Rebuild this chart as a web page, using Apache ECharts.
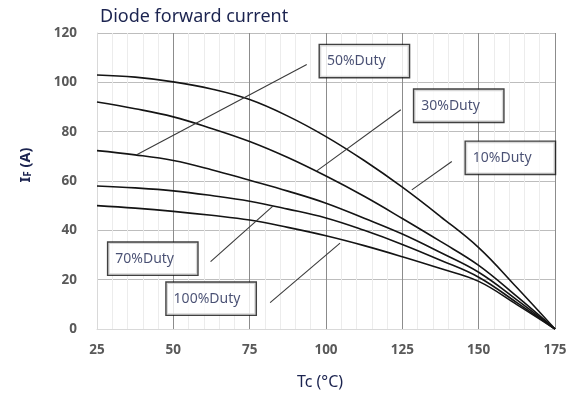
<!DOCTYPE html>
<html>
<head>
<meta charset="utf-8">
<script src="https://cdn.jsdelivr.net/npm/echarts@6/dist/echarts.min.js"></script>
<style>html,body{margin:0;padding:0;background:#fff}#c{width:577px;height:403px}</style>
</head>
<body>
<div id="c"></div>
<script>
// Case temperature (°C)
var temps = [25, 37.5, 50, 62.5, 75, 87.5, 100, 112.5, 125, 137.5, 150, 162.5, 175];
// Forward current curves (A)
var curve1 = [103, 102.1, 100.2, 97.3, 93, 86.3, 78, 68.3, 57.5, 45.6, 33, 16.8, 0];
var curve2 = [92, 89.3, 86, 81.3, 76, 69.5, 62, 53.8, 44.8, 35.5, 25.8, 13.2, 0];
var curve3 = [72.3, 70.6, 68.3, 64.6, 60.3, 55.9, 51, 44.9, 38.5, 31, 23, 11.8, 0];
var curve4 = [58, 57.2, 56, 54.1, 51.8, 48.6, 45, 40, 34.3, 27.9, 21, 10.7, 0];
var curve5 = [50, 49, 47.7, 46.1, 44.2, 41.2, 37.8, 33.8, 29.3, 24.5, 19.3, 9.9, 0];
// Annotation labels (data coords of box left edge, vertical centre)
var labelNames = ['50%Duty', '30%Duty', '10%Duty', '70%Duty', '100%Duty'];
var labelT = [98.0, 128.9, 145.8, 28.7, 47.8];
var labelV = [108.6, 90.5, 69.4, 28.5, 12.3];
// Leader lines (data coords): start T,V -> end T,V
var leadT1 = [93.7, 124.5, 141.2, 62.2, 81.7];
var leadV1 = [107.2, 88.9, 67.9, 27.3, 10.7];
var leadT2 = [38.0, 97.0, 128.1, 82.7, 104.6];
var leadV2 = [70.6, 64.1, 56.4, 49.9, 34.8];
// Axis ticks
var xTicks = [25, 50, 75, 100, 125, 150, 175];
var yTicks = [0, 20, 40, 60, 80, 100, 120];

function pairs(xs, ys) { return xs.map(function (x, i) { return [x, ys[i]]; }); }

var series = [];
[curve1, curve2, curve3, curve4, curve5].forEach(function (c) {
  series.push({
    type: 'line', data: pairs(temps, c), smooth: 0.4, symbol: 'none',
    lineStyle: { color: '#141414', width: 1.6 }, z: 3, silent: true
  });
});
for (var i = 0; i < leadT1.length; i++) {
  series.push({
    type: 'line', data: [[leadT1[i], leadV1[i]], [leadT2[i], leadV2[i]]], symbol: 'none',
    lineStyle: { color: '#3a3a3a', width: 1.1 }, z: 4, silent: true
  });
}
series.push({
  type: 'scatter', symbolSize: 0, z: 5, silent: true,
  data: labelNames.map(function (n, i) { return { value: [labelT[i], labelV[i]], name: n }; }),
  label: {
    show: true, position: 'inside', formatter: '{b}',
    fontFamily: 'Noto Sans', fontSize: 14, color: '#1c2450',
    backgroundColor: '#fff', borderColor: '#111', borderWidth: 1.4,
    width: 76, height: 16, padding: [8, 6, 8, 7], align: 'left', verticalAlign: 'middle',
    lineHeight: 16
  }
});

var chart = echarts.init(document.getElementById('c'), null, { renderer: 'canvas' });
chart.setOption({
  animation: false,
  title: {
    text: 'Diode forward current', left: 95, top: 3,
    textStyle: { fontFamily: 'Noto Sans', fontSize: 18, fontWeight: 'normal', color: '#1c2450' }
  },
  grid: { left: 97, right: 22, top: 33, bottom: 74, containLabel: false },
  xAxis: {
    type: 'value', min: xTicks[0], max: xTicks[xTicks.length - 1], interval: 25,
    name: 'Tc (°C)', nameLocation: 'middle', nameGap: 45,
    nameTextStyle: { fontFamily: 'Noto Sans', fontSize: 16, color: '#1c2450', padding: [0, 12, 0, 0] },
    axisLine: { show: true, lineStyle: { color: '#d9d9d9' } },
    axisTick: { show: false },
    axisLabel: { fontFamily: 'Noto Sans', fontSize: 13.5, fontWeight: 'bold', color: '#595959', margin: 14 },
    splitLine: { show: true, lineStyle: { color: '#8c8c8c', width: 1 } },
    minorTick: { show: false, splitNumber: 5 },
    minorSplitLine: { show: true, lineStyle: { color: '#ececec', width: 1 } }
  },
  yAxis: {
    type: 'value', min: yTicks[0], max: yTicks[yTicks.length - 1], interval: 20,
    name: '{a|I}{b|F}{a| (A)}', nameLocation: 'middle', nameGap: 64, nameRotate: 90,
    nameTextStyle: {
      padding: [0, 0, 0, 32],
      rich: {
        a: { fontFamily: 'Noto Sans', fontSize: 14.5, fontWeight: 'bold', color: '#1c2450' },
        b: { fontFamily: 'Noto Sans', fontSize: 10, fontWeight: 'bold', color: '#1c2450', verticalAlign: 'bottom' }
      }
    },
    axisLine: { show: true, lineStyle: { color: '#d9d9d9' } },
    axisTick: { show: false },
    axisLabel: { fontFamily: 'Noto Sans', fontSize: 13.5, fontWeight: 'bold', color: '#595959', margin: 20 },
    splitLine: { show: true, lineStyle: { color: '#bdbdbd', width: 1 } }
  },
  series: series
});
</script>
</body>
</html>
